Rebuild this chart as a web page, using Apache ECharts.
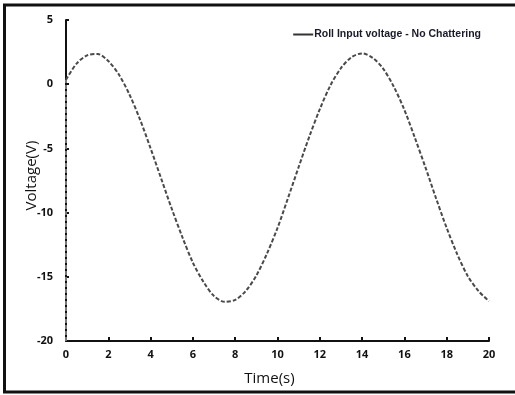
<!DOCTYPE html>
<html>
<head>
<meta charset="utf-8">
<script src="https://cdn.jsdelivr.net/npm/echarts@6/dist/echarts.min.js"></script>
<style>
  html, body { margin: 0; padding: 0; background: #fff; }
  #chart { width: 515px; height: 395px; }
</style>
</head>
<body>
<div id="chart"></div>
<script>
// Time samples (s) and voltage (V)
const times = [0, 0.5, 1, 1.5, 2, 2.5, 3, 3.5, 4, 4.5, 5, 5.5, 6, 6.5, 7, 7.5, 8, 8.5, 9, 9.5,
  10, 10.5, 11, 11.5, 12, 12.5, 13, 13.5, 14, 14.5, 15, 15.5, 16, 16.5, 17, 17.5, 18, 18.5, 19, 19.5, 20];
const volts = [0.35, 1.6, 2.25, 2.35, 1.8, 0.75, -0.8, -2.75, -5.0, -7.35, -9.7, -11.9, -13.9, -15.4, -16.5, -16.95, -16.8, -16.1, -14.9, -13.2,
  -11.2, -8.85, -6.45, -4.1, -1.95, -0.1, 1.25, 2.1, 2.4, 2.05, 1.2, -0.2, -2.0, -4.2, -6.5, -8.9, -11.2, -13.25, -14.95, -16.1, -16.9];
// short start-up trace drawn along the y axis at t = 0
const startTimes = [0, 0];
const startVolts = [-20, 0.35];

const xTicks = { min: 0, max: 20, interval: 2 };
const yTicks = { min: -20, max: 5, interval: 5 };

const seriesName = 'Roll Input voltage - No Chattering';

const chart = echarts.init(document.getElementById('chart'));

const labelFont = {
  fontFamily: '"Open Sans", "Noto Sans", sans-serif',
  fontWeight: 'bold',
  fontSize: 11,
  color: '#111'
};

chart.setOption({
  animation: false,
  backgroundColor: '#fff',
  graphic: [{
    type: 'rect',
    shape: { x: 4.5, y: 5, width: 530, height: 387 },
    style: { fill: 'none', stroke: '#111', lineWidth: 3 },
    silent: true,
    z: 100
  }],
  grid: { left: 66, right: 26, top: 20, bottom: 54 },
  legend: {
    data: [seriesName],
    right: 29,
    top: 24,
    icon: 'rect',
    itemWidth: 20,
    itemHeight: 2,
    itemGap: 2,
    textStyle: {
      fontFamily: '"Liberation Sans", Arial, sans-serif',
      fontSize: 10.5,
      fontWeight: 'bold',
      color: '#1a1a2a',
      padding: [0, 0, 0, -4]
    }
  },
  xAxis: {
    type: 'value',
    min: xTicks.min,
    max: xTicks.max,
    interval: xTicks.interval,
    name: 'Time(s)',
    nameLocation: 'middle',
    nameGap: 30,
    nameTextStyle: {
      fontFamily: '"Open Sans", "Noto Sans", sans-serif',
      fontSize: 15,
      color: '#111',
      padding: [0, 16, 0, 0]
    },
    axisLine: { show: true, onZero: false, lineStyle: { color: '#111', width: 2 } },
    axisTick: { show: true, inside: true, length: 4, lineStyle: { color: '#111', width: 2 } },
    axisLabel: Object.assign({ margin: 8 }, labelFont),
    splitLine: { show: false }
  },
  yAxis: {
    type: 'value',
    min: yTicks.min,
    max: yTicks.max,
    interval: yTicks.interval,
    name: 'Voltage(V)',
    nameLocation: 'middle',
    nameGap: 27,
    nameMoveOverlap: false,
    nameRotate: 90,
    nameTextStyle: {
      fontFamily: '"Open Sans", "Noto Sans", sans-serif',
      fontSize: 15,
      color: '#111',
      padding: [0, 0, 0, 10]
    },
    axisLine: { show: true, onZero: false, lineStyle: { color: '#111', width: 2 } },
    axisTick: { show: true, inside: true, length: 3, lineStyle: { color: '#111', width: 2 } },
    axisLabel: Object.assign({ margin: 13 }, labelFont),
    splitLine: { show: false }
  },
  series: [
    {
      name: seriesName,
      type: 'line',
      data: times.map((t, i) => [t, volts[i]]),
      smooth: 0.3,
      symbol: 'none',
      itemStyle: { color: '#333' },
      lineStyle: { color: '#4a4a4a', width: 2, type: [4, 2] },
      z: 3
    },
    {
      name: 'start',
      type: 'line',
      data: startTimes.map((t, i) => [t, startVolts[i]]),
      symbol: 'none',
      lineStyle: { color: '#777', width: 2, type: [4, 2] },
      z: 2
    }
  ]
});
</script>
</body>
</html>
